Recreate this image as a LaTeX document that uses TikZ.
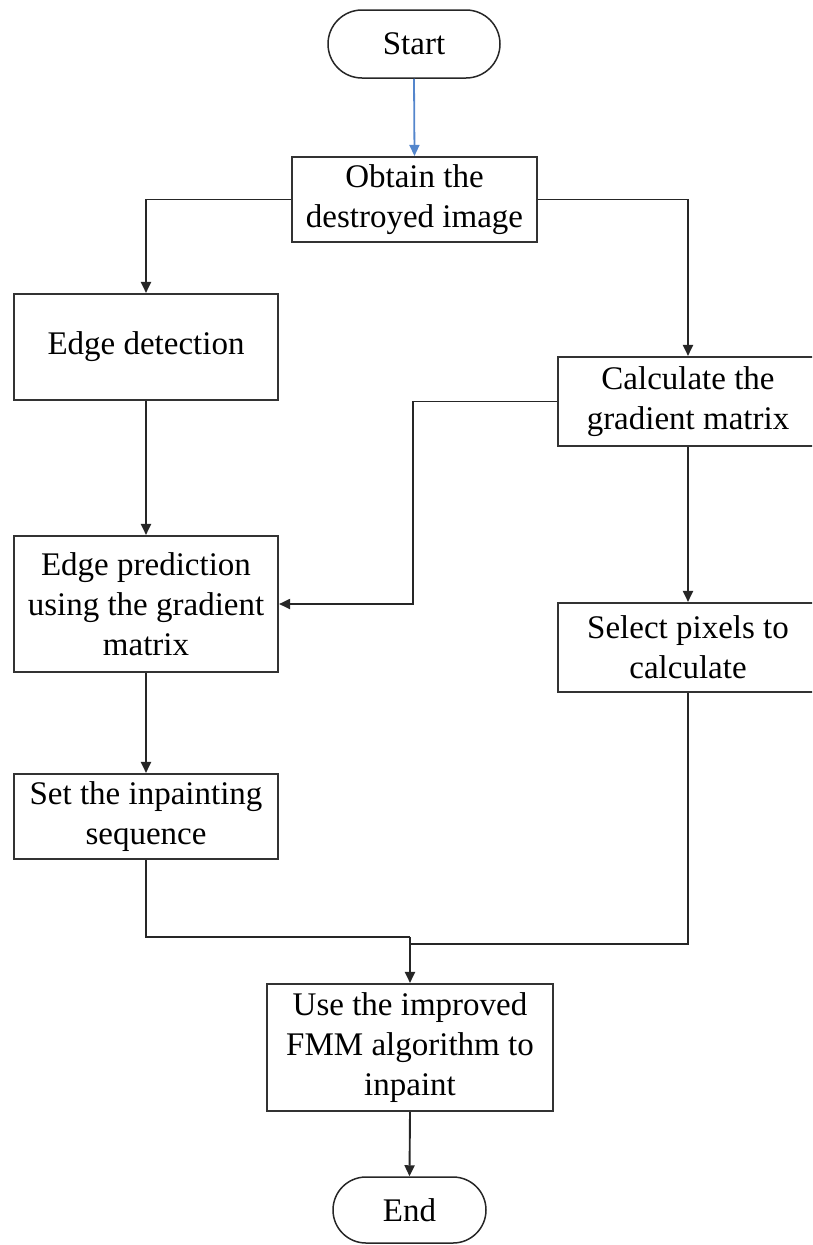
\documentclass[tikz,border=0pt]{standalone}
\usepackage{fontspec}
\setmainfont{Liberation Serif}
\usetikzlibrary{arrows.meta,shapes.misc}

\begin{document}
\begin{tikzpicture}[x=1pt,y=-1pt,
  font=\fontsize{33}{40}\selectfont,
  stepbox/.style={draw=black!80, line width=2.1pt, align=center, inner sep=0pt,
    minimum width=#1},
  terminal/.style={draw=black!85, line width=1.5pt, rounded rectangle, inner sep=0pt,
    minimum width=#1},
  link/.style={draw=black!85, line width=1.9pt},
  arr/.style={link, -{Triangle[length=11pt,width=10pt]}},
  bluearr/.style={draw={rgb,255:red,84;green,134;blue,204}, line width=1.8pt,
    -{Triangle[length=11pt,width=10pt]}},
]
\useasboundingbox (0,0) rectangle (812,1245);
\clip (0,0) rectangle (812,1245);

% process steps
\node[terminal=172pt, minimum height=68pt] (start) at (414,44) {Start};
\node[stepbox=245pt, minimum height=85pt] (obtain) at (414.5,199.5) {Obtain the\\destroyed image};
\node[stepbox=264pt, minimum height=106pt] (edged) at (146,347) {Edge detection};
\node[stepbox=260pt, minimum height=89pt] (calc) at (688,401.5) {Calculate the\\gradient matrix};
\node[stepbox=264pt, minimum height=136pt] (edgep) at (146,604) {Edge prediction\\using the gradient\\matrix};
\node[stepbox=260pt, minimum height=89pt] (select) at (688,647.5) {Select pixels to\\calculate};
\node[stepbox=264pt, minimum height=85pt] (setseq) at (146,816.5) {Set the inpainting\\sequence};
\node[stepbox=286pt, minimum height=127pt] (use) at (410,1047.5) {Use the improved\\FMM algorithm to\\inpaint};
\node[terminal=153pt, minimum height=66pt] (end) at (409.5,1210) {End};

% junction points
\coordinate (jx) at (413,0);
\coordinate (mL) at (410,937);
\coordinate (mR) at (410,944);

% connectors
\draw[bluearr] (start.south) -- (obtain.north);
\draw[arr] (obtain.west) -| (edged.north);
\draw[arr] (obtain.east) -| (calc.north);
\draw[arr] (edged.south) -- (edgep.north);
\draw[arr] (calc.west) -- (calc.west -| jx) |- (edgep.east);
\draw[arr] (calc.south) -- (select.north);
\draw[arr] (edgep.south) -- (setseq.north);
\draw[link] (setseq.south) |- (mL);
\draw[link] (select.south) |- (mR);
\draw[arr] (mL) -- (use.north);
\draw[arr] (use.south) -- (end.north);
\end{tikzpicture}
\end{document}
